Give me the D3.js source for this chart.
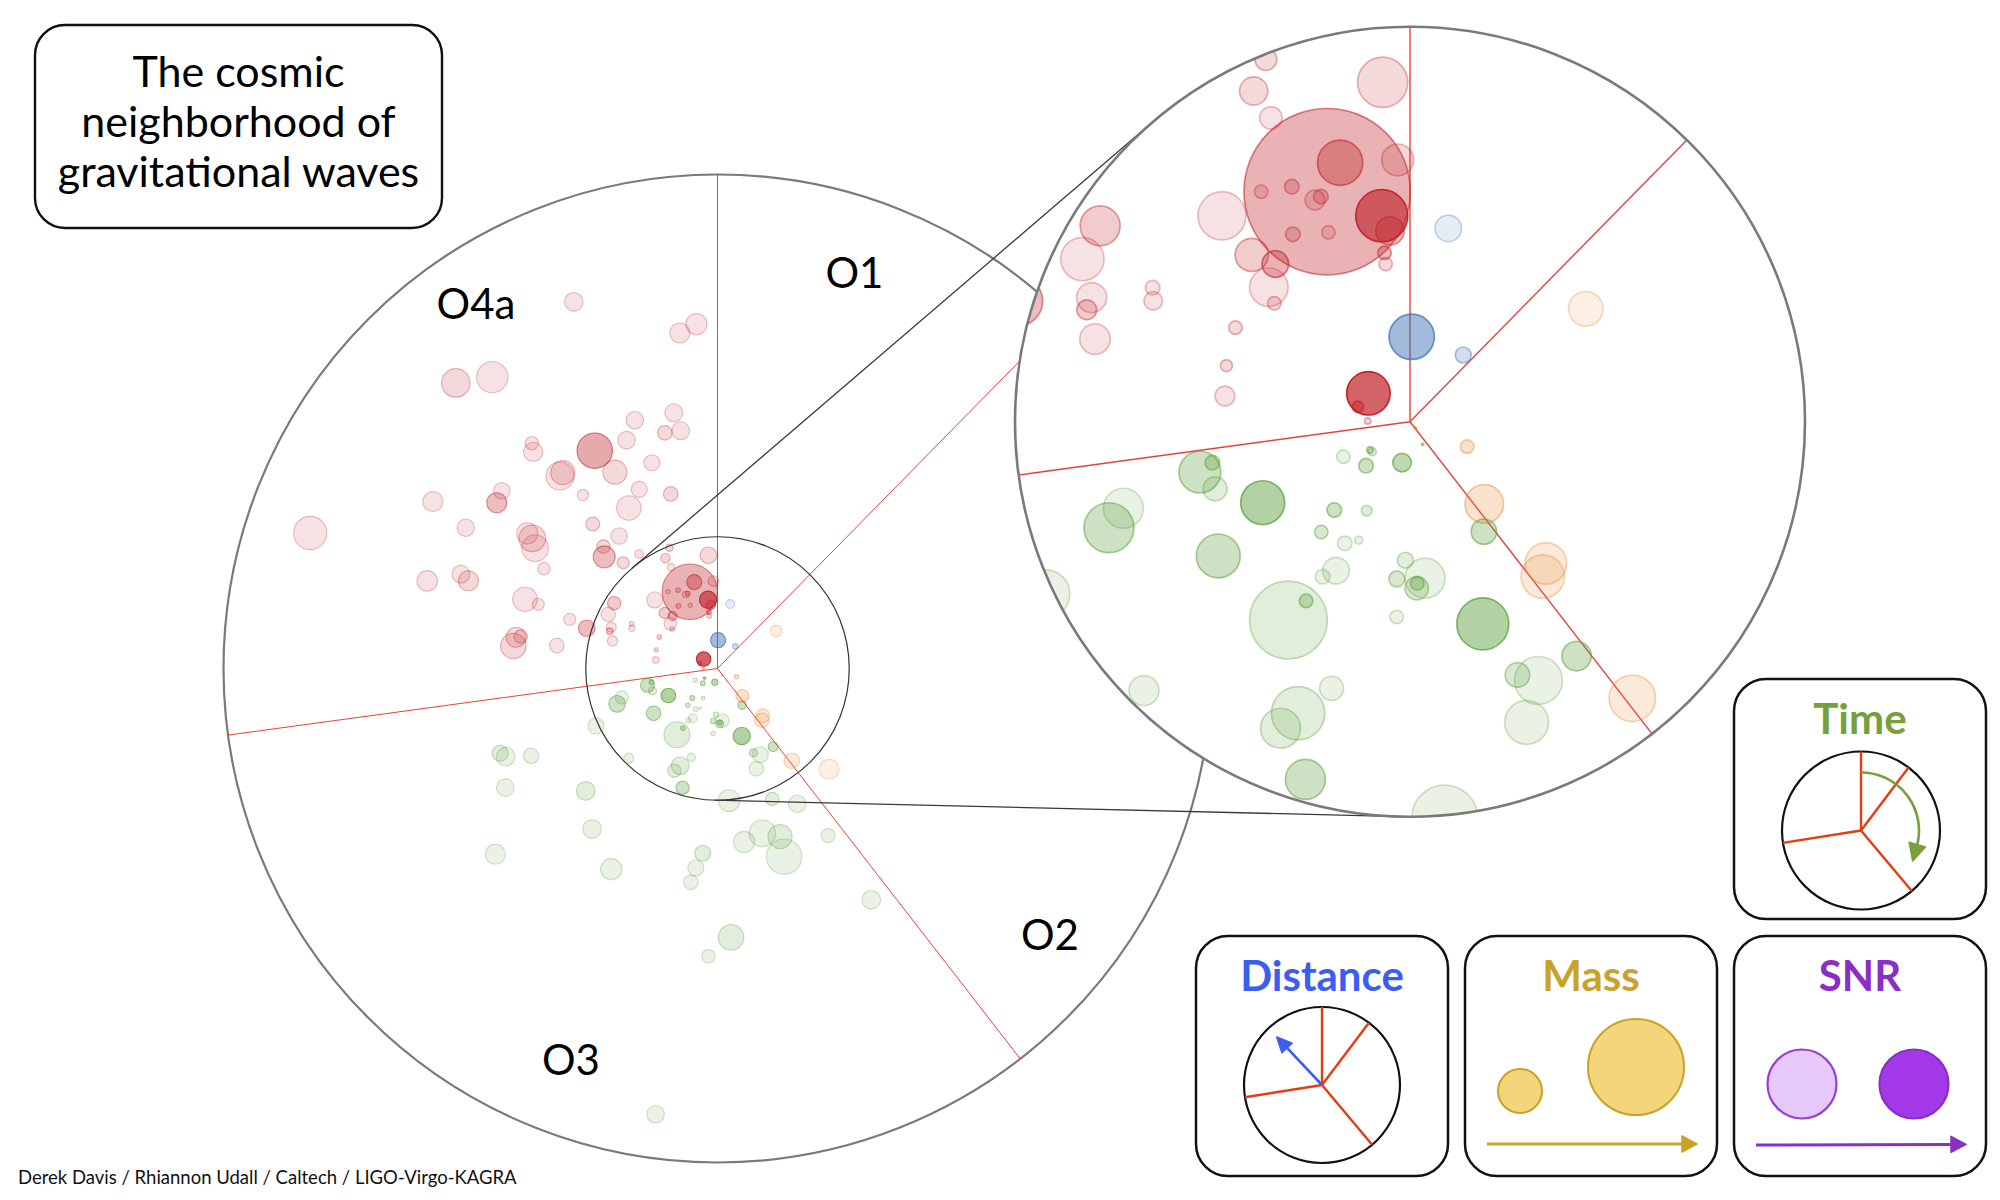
<!DOCTYPE html>
<html><head><meta charset="utf-8">
<script src="https://cdn.jsdelivr.net/npm/d3@7/dist/d3.min.js"></script>
<style>
html,body{margin:0;padding:0;background:#fff;}
svg{display:block;font-family:Lato,"Open Sans",sans-serif;}
</style></head><body>
<svg id="chart" width="2000" height="1200"></svg>
<script>
// ---------------- data ----------------
const runs = ["O1", "O2", "O3", "O4a"];
const runColors = ["#4071b8", "#e8842a", "#5a9e3a", "#c0262c"];
// clock angle (deg, clockwise from 12 o'clock) where each observing run starts
const runStartAngles = [0, 44.5, 142.2, 262.25];
const maxDistance = 7500;   // Mpc at the rim of the main disc
const zoomDistance = 2000;  // Mpc at the rim of the magnified disc
// events: [time as clock angle (deg), luminosity distance (Mpc), total mass (Msun), network SNR]
const eventsO1 = [
  [11.2, 998, 37.6, 8.5], [1.15, 430, 64, 24], [38.6, 432, 22.6, 13]
];
const eventsO2 = [
  [140.2, 40, 2.7, 33], [113.6, 316, 19, 13], [137.9, 561, 54.5, 13], [136.2, 994, 58.5, 10.5],
  [139.4, 1033, 61.3, 10.5], [141.2, 1797, 65.8, 10.5], [57.3, 1058, 48.9, 8.5], [132.1, 2282, 85, 8.5]
];
const eventsO3 = [
  [256.5, 1094, 59, 16], [258.3, 1022, 20.6, 16], [251.0, 1044, 34, 10.5], [253.2, 1516, 56.5, 8.5],
  [250.6, 1616, 70.6, 16], [241.2, 851, 62, 23], [235.0, 1185, 62, 16], [242.3, 381, 19, 8.5],
  [225.0, 315, 20.6, 16], [234.7, 248, 9.4, 16], [231.5, 244, 11.3, 10.5], [191.0, 211, 26.3, 20],
  [220.6, 589, 20.6, 16], [205.9, 501, 15, 10.5], [218.8, 717, 19, 13], [208.2, 699, 20.6, 8.5],
  [203.4, 654, 11.3, 8.5], [206.4, 842, 37.6, 8.5], [209.4, 901, 20.6, 8.5], [181.9, 702, 22.6, 10.5],
  [184.8, 799, 22.6, 13], [183.9, 991, 19, 8.5], [211.5, 1178, 110, 10.5], [210.1, 1049, 19, 16],
  [224.7, 1915, 42.4, 8.5], [196.4, 1407, 34, 8.5], [201.0, 1581, 75.4, 10.5], [202.9, 1685, 56.5, 10.5],
  [196.3, 1887, 56.5, 16], [146.1, 671, 35.9, 16], [174.5, 796, 56.5, 8.5], [177.4, 819, 19, 16],
  [177.7, 844, 33, 13], [160.2, 1088, 73.5, 23], [144.6, 1456, 41.5, 16], [157.0, 1393, 34.7, 13],
  [153.6, 1463, 67.8, 8.5], [158.8, 1633, 62, 8.5], [150.7, 131, 3.4, 16],
  [248.7, 3543, 68, 10.5], [247.4, 3483, 79, 8.5], [244.9, 3125, 65, 8.5], [240.7, 3695, 74, 8.5],
  [227.1, 2731, 79, 10.5], [244.7, 2040, 68, 8.5], [218.0, 3093, 79, 8.5], [230.1, 4397, 85, 8.5],
  [207.9, 3448, 90, 8.5], [184.6, 2814, 68, 10.5], [186.2, 3046, 68, 8.5], [187.1, 3271, 62, 8.5],
  [175.0, 2014, 93, 8.5], [157.2, 2148, 57, 10.5], [149.5, 2383, 74, 8.5], [171.3, 2664, 90, 8.5],
  [164.8, 2593, 113, 8.5], [159.6, 2724, 102, 10.5], [160.5, 3031, 150, 8.5], [146.5, 3042, 59, 8.5],
  [146.4, 4217, 79, 8.5], [177.1, 4086, 108, 10.5], [181.8, 4371, 57, 8.5], [187.9, 6833, 74, 8.5]
];
const eventsO4a = [
  [338.3, 1974, 31, 10.5], [334.7, 1852, 40, 10.5], [335.4, 1692, 32, 8.5], [355.4, 1724, 71, 10.5],
  [340.2, 1238, 235, 18], [344.9, 1358, 64, 19], [357.3, 1327, 45, 10.5], [352.2, 1053, 73.5, 31],
  [354.0, 971, 40, 16], [351.4, 865, 19, 16], [351.2, 808, 19, 10.5], [327.1, 1387, 19, 10.5],
  [333.3, 1332, 20.6, 13], [336.8, 1221, 28, 10.5], [338.4, 1226, 20.6, 13], [328.0, 1119, 20.6, 13],
  [336.7, 1044, 19, 10.5], [317.6, 1412, 68, 8.5], [316.5, 1164, 47, 13], [319.5, 1050, 37.6, 18],
  [313.6, 987, 54.5, 8.5], [311.1, 912, 19, 10.5], [302.3, 1856, 56.5, 13], [296.4, 1852, 61.3, 8.5],
  [291.3, 1730, 42.4, 8.5], [289.1, 1732, 28, 13], [284.7, 1649, 43.2, 8.5], [297.5, 1469, 20.6, 8.5],
  [295.2, 1437, 26.3, 8.5], [298.3, 1004, 19, 10.5], [287.0, 972, 17, 10.5], [277.9, 946, 28, 8.5],
  [304.3, 255, 61.3, 34], [286.0, 275, 16, 22], [270.9, 214, 9, 10.5],
  [338.6, 5979, 79, 8.5], [353.6, 5125, 85, 8.5], [356.5, 5239, 90, 8.5], [317.5, 5881, 121, 10.5],
  [322.3, 5591, 133, 8.5], [350.3, 3939, 76, 8.5], [341.6, 3974, 74, 8.5], [347.4, 3667, 62, 10.5],
  [351.2, 3653, 76, 8.5], [338.3, 3732, 74, 8.5], [330.6, 3796, 150, 20], [332.4, 3364, 102, 10.5],
  [342.3, 3279, 68, 8.5], [320.5, 4432, 57, 8.5], [319.6, 4319, 82, 8.5], [321.7, 3789, 102, 10.5],
  [320.7, 3776, 119, 8.5], [336.4, 2968, 68, 8.5], [345.0, 2743, 62, 10.5], [322.2, 3332, 48, 8.5],
  [331.1, 2784, 104, 8.5], [309.5, 4244, 70, 8.5], [306.9, 4191, 85, 16], [300.4, 5010, 85, 8.5],
  [288.4, 6517, 141, 8.5], [299.2, 4379, 74, 8.5], [319.2, 2898, 59, 10.5], [323.4, 2506, 70, 8.5],
  [305.4, 3543, 90, 8.5], [305.1, 3437, 113, 10.5], [303.4, 3317, 113, 8.5], [299.9, 3039, 53, 8.5],
  [316.9, 2535, 57, 10.5], [314.6, 2415, 93, 16], [318.3, 2151, 51, 10.5], [325.6, 2107, 36, 8.5],
  [286.8, 4603, 87, 8.5], [290.2, 4150, 76, 8.5], [289.4, 4009, 85, 10.5], [289.8, 3106, 104, 8.5],
  [289.7, 2890, 51, 8.5], [288.4, 2365, 51, 8.5], [287.1, 2077, 70, 16], [276.3, 3118, 108, 10.5],
  [278.8, 3095, 85, 10.5], [279.2, 3027, 57, 10.5], [278.1, 2465, 62, 8.5]
];
const eventsByRun = [eventsO1, eventsO2, eventsO3, eventsO4a];
const titleLines = ["The cosmic", "neighborhood of", "gravitational waves"];
const legendTitles = ["Time", "Distance", "Mass", "SNR"];
const legendTitleColors = ["#77a03d", "#3a5ef2", "#c9a227", "#8a2fc4"];
const legendSectorAngles = [0, 37, 140, 261];
const credit = "Derek Davis / Rhiannon Udall / Caltech / LIGO-Virgo-KAGRA";

// ---------------- layout ----------------
const svg = d3.select("#chart");
const mainC = {x: 717.5, y: 668.5, r: 494};
const zoomC = {x: 1410, y: 421.7, r: 395};
const rMain = d3.scaleLinear().domain([0, maxDistance]).range([0, mainC.r]);
const rZoom = d3.scaleLinear().domain([0, zoomDistance]).range([0, zoomC.r]);
const zoomFactor = rZoom(1000) / rMain(1000);
const sizeScale = d3.scaleLinear().domain([0, 100]).range([0, 11.8]);
const opacityScale = d3.scaleLinear().domain([8, 40]).range([0.12, 0.85]).clamp(true);
const angleScale = d3.scaleLinear().domain([0, 360]).range([0, 2 * Math.PI]);

const allEvents = eventsByRun.flatMap((list, i) =>
  list.map(e => ({run: i, t: e[0], d: e[1], m: e[2], snr: e[3]})))
  .sort((a, b) => b.m - a.m);

function polar(cx, cy, r, deg) {
  const a = angleScale(deg);
  return [cx + r * Math.sin(a), cy - r * Math.cos(a)];
}

function drawEvents(g, c, rs, k, sw) {
  g.selectAll("circle.ev").data(allEvents).join("circle")
    .attr("class", "ev")
    .attr("cx", e => polar(c.x, c.y, rs(e.d), e.t)[0])
    .attr("cy", e => polar(c.x, c.y, rs(e.d), e.t)[1])
    .attr("r", e => sizeScale(e.m) * k)
    .attr("fill", e => runColors[e.run])
    .attr("fill-opacity", e => opacityScale(e.snr))
    .attr("stroke", e => runColors[e.run])
    .attr("stroke-opacity", e => Math.min(1, opacityScale(e.snr) * 1.3 + 0.12))
    .attr("stroke-width", sw);
}
function drawSectorLines(g, c, r, angles, color, sw) {
  g.selectAll("line.sec").data(angles).join("line")
    .attr("class", "sec")
    .attr("x1", c.x).attr("y1", c.y)
    .attr("x2", a => polar(c.x, c.y, r, a)[0])
    .attr("y2", a => polar(c.x, c.y, r, a)[1])
    .attr("stroke", color).attr("stroke-width", sw);
}

// main disc
svg.append("circle").attr("cx", mainC.x).attr("cy", mainC.y).attr("r", mainC.r)
  .attr("fill", "#fff").attr("stroke", "#7a7a7a").attr("stroke-width", 2.2);
drawSectorLines(svg.append("g"), mainC, mainC.r, runStartAngles, "#e8413c", 1);
drawEvents(svg.append("g"), mainC, rMain, 1, 1.1);

// small (to-be-magnified) circle
const smallR = rMain(zoomDistance);
svg.append("circle").attr("cx", mainC.x).attr("cy", mainC.y).attr("r", smallR)
  .attr("fill", "none").attr("stroke", "#333").attr("stroke-width", 1.2);

// external tangent lines between the small circle and the zoom circle
(function () {
  const dx = zoomC.x - mainC.x, dy = zoomC.y - mainC.y;
  const dist = Math.hypot(dx, dy);
  const th = Math.atan2(dy, dx);
  const phi = Math.acos((smallR - zoomC.r) / dist);
  [th + phi, th - phi].forEach(a => {
    svg.append("line")
      .attr("x1", mainC.x + smallR * Math.cos(a)).attr("y1", mainC.y + smallR * Math.sin(a))
      .attr("x2", zoomC.x + zoomC.r * Math.cos(a)).attr("y2", zoomC.y + zoomC.r * Math.sin(a))
      .attr("stroke", "#3a3a3a").attr("stroke-width", 1.3);
  });
})();

// zoom disc
svg.append("defs").append("clipPath").attr("id", "zclip")
  .append("circle").attr("cx", zoomC.x).attr("cy", zoomC.y).attr("r", zoomC.r);
svg.append("circle").attr("cx", zoomC.x).attr("cy", zoomC.y).attr("r", zoomC.r).attr("fill", "#fff");
const zg = svg.append("g").attr("clip-path", "url(#zclip)");
drawSectorLines(zg.append("g"), zoomC, zoomC.r, runStartAngles, "#e8413c", 1.4);
drawEvents(zg.append("g"), zoomC, rZoom, zoomFactor, 1.7);
svg.append("circle").attr("cx", zoomC.x).attr("cy", zoomC.y).attr("r", zoomC.r)
  .attr("fill", "none").attr("stroke", "#7a7a7a").attr("stroke-width", 2.6);

// run labels
const runLabelPos = [[854.5, 288], [1050, 950], [571, 1075], [476, 319]];
svg.append("g").selectAll("text").data(runs).join("text")
  .attr("x", (d, i) => runLabelPos[i][0]).attr("y", (d, i) => runLabelPos[i][1])
  .attr("text-anchor", "middle").attr("font-size", 42).attr("fill", "#000")
  .text(d => d);

// title
svg.append("rect").attr("x", 35).attr("y", 25).attr("width", 407).attr("height", 203)
  .attr("rx", 30).attr("fill", "none").attr("stroke", "#111").attr("stroke-width", 2.4);
svg.append("g").selectAll("text").data(titleLines).join("text")
  .attr("x", 238.5).attr("y", (d, i) => 87 + i * 50)
  .attr("text-anchor", "middle").attr("font-size", 43).attr("fill", "#000")
  .text(d => d);

// credit
svg.append("text").attr("x", 18).attr("y", 1184).attr("font-size", 18.5).attr("fill", "#111").text(credit);

// ---------------- legend ----------------
const boxW = 252, boxH = 240;
const boxes = [[1734, 679], [1196, 936], [1465, 936], [1734, 936]];
const lg = svg.append("g");
lg.selectAll("rect").data(boxes).join("rect")
  .attr("x", d => d[0]).attr("y", d => d[1]).attr("width", boxW).attr("height", boxH)
  .attr("rx", 32).attr("fill", "none").attr("stroke", "#111").attr("stroke-width", 2.5);
lg.selectAll("text").data(legendTitles).join("text")
  .attr("x", (d, i) => boxes[i][0] + boxW / 2).attr("y", (d, i) => boxes[i][1] + 55)
  .attr("text-anchor", "middle").attr("font-size", 42).attr("font-weight", 700)
  .attr("fill", (d, i) => legendTitleColors[i]).text(d => d);

function arrowHead(g, tip, dir, len, wid, color) {
  const ux = Math.cos(dir), uy = Math.sin(dir);
  const bx = tip[0] - ux * len, by = tip[1] - uy * len;
  g.append("path")
    .attr("d", `M${tip[0]},${tip[1]}L${bx - uy * wid / 2},${by + ux * wid / 2}L${bx + uy * wid / 2},${by - ux * wid / 2}Z`)
    .attr("fill", color).attr("stroke", color).attr("stroke-width", 1.5).attr("stroke-linejoin", "round");
}
function clockIcon(g, c, r) {
  g.append("circle").attr("cx", c.x).attr("cy", c.y).attr("r", r)
    .attr("fill", "none").attr("stroke", "#111").attr("stroke-width", 2.2);
  drawSectorLines(g.append("g"), c, r, legendSectorAngles, "#e63c14", 2.4);
}
// time icon
const timeC = {x: 1861, y: 830.5};
clockIcon(lg.append("g"), timeC, 79);
(function () {
  const r = 58, a1 = 106;
  const p0 = polar(timeC.x, timeC.y, r, 0), p1 = polar(timeC.x, timeC.y, r, a1);
  lg.append("path").attr("d", `M${p0[0]},${p0[1]}A${r},${r} 0 0 1 ${p1[0]},${p1[1]}`)
    .attr("fill", "none").attr("stroke", "#77a03d").attr("stroke-width", 2.6);
  const dir = angleScale(a1);
  const tip = [p1[0] + Math.cos(dir) * 15, p1[1] + Math.sin(dir) * 15];
  arrowHead(lg, tip, dir, 17, 17, "#77a03d");
})();
// distance icon
const distC = {x: 1322, y: 1085};
clockIcon(lg.append("g"), distC, 78);
(function () {
  const tip = polar(distC.x, distC.y, 66, 316.7);
  const base = polar(distC.x, distC.y, 52, 316.7);
  lg.append("line").attr("x1", distC.x).attr("y1", distC.y).attr("x2", base[0]).attr("y2", base[1])
    .attr("stroke", "#3a5ef2").attr("stroke-width", 2.6);
  arrowHead(lg, tip, Math.atan2(tip[1] - distC.y, tip[0] - distC.x), 15, 14, "#3a5ef2");
})();
// mass icon
lg.append("circle").attr("cx", 1520).attr("cy", 1091).attr("r", 22)
  .attr("fill", "#f3d57c").attr("stroke", "#c9a227").attr("stroke-width", 2);
lg.append("circle").attr("cx", 1636).attr("cy", 1067).attr("r", 48)
  .attr("fill", "#f3d57c").attr("stroke", "#c9a227").attr("stroke-width", 2);
lg.append("line").attr("x1", 1487).attr("y1", 1144).attr("x2", 1684).attr("y2", 1144)
  .attr("stroke", "#c9a227").attr("stroke-width", 3);
arrowHead(lg, [1697, 1144], 0, 15, 16, "#c9a227");
// SNR icon
lg.append("circle").attr("cx", 1802).attr("cy", 1084).attr("r", 34.5)
  .attr("fill", "#e7c8fb").attr("stroke", "#9a3fd4").attr("stroke-width", 2.2);
lg.append("circle").attr("cx", 1914).attr("cy", 1084).attr("r", 34.5)
  .attr("fill", "#a238e8").attr("stroke", "#8a2fc4").attr("stroke-width", 2.2);
lg.append("line").attr("x1", 1756).attr("y1", 1145).attr("x2", 1952).attr("y2", 1144.5)
  .attr("stroke", "#8a2fc4").attr("stroke-width", 3);
arrowHead(lg, [1966, 1144.3], 0, 15, 16, "#8a2fc4");
</script>
</body></html>
